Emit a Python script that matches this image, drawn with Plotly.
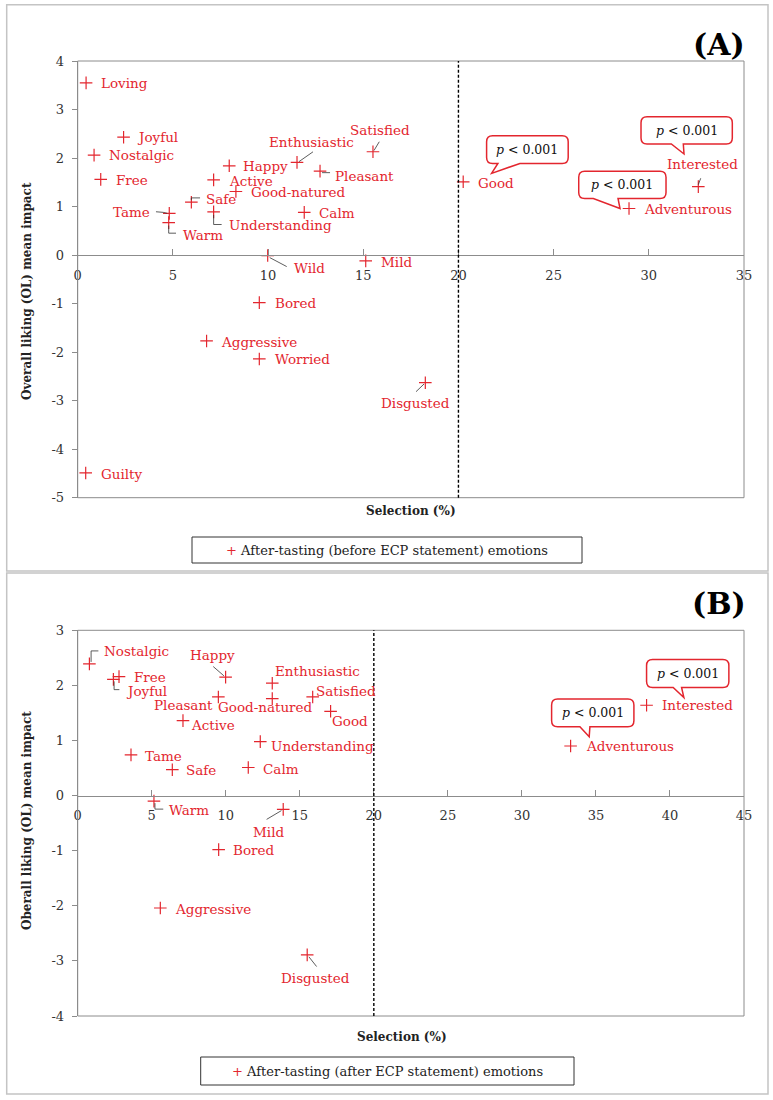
import plotly.graph_objects as go

W, H = 773, 1100
RED = "#E3262E"
FONT = "DejaVu Serif"
AXC = "#8c8c8c"

# ---------------- data ----------------
emotions_a = ["Loving", "Joyful", "Nostalgic", "Free", "Happy", "Enthusiastic", "Satisfied",
              "Pleasant", "Active", "Good-natured", "Safe", "Tame", "Warm", "Understanding",
              "Calm", "Wild", "Mild", "Bored", "Aggressive", "Worried", "Disgusted", "Guilty",
              "Good", "Adventurous", "Interested"]
selection_a = [0.44, 2.41, 0.86, 1.21, 7.96, 11.52, 15.51, 12.73, 7.14, 8.31, 5.97, 4.81, 4.78,
               7.14, 11.9, 9.98, 15.13, 9.54, 6.77, 9.54, 18.26, 0.42, 20.25, 28.96, 32.6]
impact_a = [3.55, 2.43, 2.06, 1.56, 1.84, 1.91, 2.13, 1.73, 1.55, 1.31, 1.09, 0.86, 0.67,
            0.89, 0.88, -0.01, -0.12, -0.98, -1.77, -2.14, -2.63, -4.49, 1.51, 0.96, 1.41]

emotions_b = ["Nostalgic", "Free", "Joyful", "Happy", "Enthusiastic", "Good-natured", "Pleasant",
              "Satisfied", "Good", "Active", "Understanding", "Tame", "Safe", "Calm", "Warm",
              "Mild", "Bored", "Aggressive", "Disgusted", "Interested", "Adventurous"]
selection_b = [0.79, 2.79, 2.41, 9.99, 13.14, 13.14, 9.5, 15.87, 17.08, 7.11, 12.33, 3.6, 6.39,
               11.52, 5.15, 13.88, 9.52, 5.58, 15.5, 38.42, 33.29]
impact_b = [2.39, 2.16, 2.11, 2.15, 2.04, 1.76, 1.79, 1.79, 1.53, 1.36, 0.98, 0.74, 0.47,
            0.51, -0.1, -0.25, -0.98, -2.04, -2.89, 1.64, 0.9]

x_ticks_a = [0, 5, 10, 15, 20, 25, 30, 35]
y_ticks_a = [-5, -4, -3, -2, -1, 0, 1, 2, 3, 4]
x_ticks_b = [0, 5, 10, 15, 20, 25, 30, 35, 40, 45]
y_ticks_b = [-4, -3, -2, -1, 0, 1, 2, 3]
threshold = 20

legend_a = "After-tasting (before ECP statement) emotions"
legend_b = "After-tasting (after ECP statement) emotions"
ytitle_a = "Overall liking (OL) mean impact"
ytitle_b = "Oberall liking (OL) mean impact"
xtitle = "Selection (%)"

# ---------------- styling: label placement (anchor, dx, dy in screen px, y down) -------------
lab_a = {
    "Loving": ("left", 13, 0.6), "Joyful": ("left", 11.3, 0), "Nostalgic": ("left", 12.7, 0),
    "Free": ("left", 13.3, 0.7), "Happy": ("left", 12, 0), "Active": ("left", 13, 1),
    "Good-natured": ("left", 13.3, 0.7), "Safe": ("left", 12.7, -3.3), "Tame": ("right", -17.6, -1.3),
    "Warm": ("left", 12, 12.3), "Understanding": ("left", 13, 13.6), "Calm": ("left", 13, 0.4),
    "Enthusiastic": ("center", 14.7, -20.6), "Satisfied": ("center", 6.7, -21.7),
    "Pleasant": ("left", 12.7, 4.7), "Wild": ("left", 24.3, 12), "Mild": ("left", 13, 1.3),
    "Bored": ("left", 13.4, 0), "Aggressive": ("left", 12.6, 0.6), "Worried": ("left", 13.4, 0.3),
    "Disgusted": ("center", -10.3, 20.6), "Guilty": ("left", 13, 0.6), "Good": ("left", 12.7, 1),
    "Adventurous": ("left", 13.3, 0.7), "Interested": ("center", 4.2, -22.4),
}
lab_b = {
    "Nostalgic": ("left", 13, -12.7), "Free": ("left", 12.7, 0.6), "Joyful": ("left", 11, 11.3),
    "Happy": ("center", -12.7, -22), "Enthusiastic": ("left", 1, -12),
    "Good-natured": ("center", -6.5, 8.4), "Pleasant": ("right", -3.3, 7.6),
    "Satisfied": ("left", 1.3, -6.3), "Good": ("left", -0.7, 10), "Active": ("left", 6, 4.6),
    "Understanding": ("left", 8.4, 4.7), "Tame": ("left", 11.7, 1), "Safe": ("left", 11.7, 0.6),
    "Calm": ("left", 12.7, 1.3), "Warm": ("left", 12.7, 9.3), "Mild": ("center", -15, 23),
    "Bored": ("left", 12.6, 0.7), "Aggressive": ("left", 12.7, 0.6),
    "Disgusted": ("center", 8.5, 23.3), "Interested": ("left", 13.3, 0), "Adventurous": ("left", 13.3, 0),
}
lead_a = {
    "Safe": [(0, -2), (0, -4.3), (8.7, -4.3)],
    "Tame": [(-13.3, -1.6), (-6, -1), (-2, 0)],
    "Warm": [(0, 3), (0, 10.6), (7.3, 10.6)],
    "Understanding": [(0, 3), (0, 12.6), (8, 12.6)],
    "Enthusiastic": [(16, -10.6), (2, -0.8)],
    "Satisfied": [(6.3, -10), (1, -1.2)],
    "Pleasant": [(2, 1.5), (10, 1.5)],
    "Wild": [(2, 2), (19, 11)],
    "Disgusted": [(-9.3, 9), (-1.3, 1.3)],
    "Interested": [(2.4, -8.4), (0, -2)],
}
lead_b = {
    "Nostalgic": [(1.7, -2), (1.7, -13), (9, -13)],
    "Joyful": [(0.7, 2), (0.7, 10.3), (6, 10.3)],
    "Happy": [(-12.4, -10.6), (-1.7, -1.3)],
    "Warm": [(1, 2), (1, 8), (9.3, 8)],
    "Mild": [(-16.6, 10), (-1.8, 1.2)],
    "Disgusted": [(9.4, 11.7), (1.7, 2)],
}
# bubble: box (left, right, top, bottom), tail base (b1, b2), tip (tx, ty) -- screen px rel. to point
bub_a = {
    "Good": ((23.4, 105, -46, -18.4), (34.7, 56.7), (28.4, -8.4)),
    "Interested": ((-57.3, 34, -70, -42.7), (-27, -15), (-14.3, -32.7)),
    "Adventurous": ((-50.3, 37, -37.3, -10), (-35.7, -11), (-9, 0)),
}
bub_b = {
    "Interested": ((0, 82.3, -45.7, -17.7), (26.6, 35), (37.3, -7.7)),
    "Adventurous": ((-19, 63.3, -47, -19.3), (9.3, 19.3), (18.6, -9.3)),
}

LABEL_SIZE = 13.5
TICK_SIZE = 13
TITLE_SIZE = 12

# panel geometry (px)
PX_L, PX_R = 77.7, 744
A_T, A_B = 61, 497.7
B_T, B_B = 630.3, 1016


def px(x):
    return x / W


def py(y):
    return 1 - y / H


def fmt(points):
    return " L ".join(f"{x:.2f},{-y:.2f}" for x, y in points)


def bubble_path(box, base, tip, r=6):
    l, rr, t, b = box
    b1, b2 = base
    tx, ty = tip
    s = f"M {l + r:.2f},{-t:.2f} L {rr - r:.2f},{-t:.2f} Q {rr:.2f},{-t:.2f} {rr:.2f},{-(t + r):.2f} "
    s += f"L {rr:.2f},{-(b - r):.2f} Q {rr:.2f},{-b:.2f} {rr - r:.2f},{-b:.2f} "
    s += f"L {b2:.2f},{-b:.2f} L {tx:.2f},{-ty:.2f} L {b1:.2f},{-b:.2f} "
    s += f"L {l + r:.2f},{-b:.2f} Q {l:.2f},{-b:.2f} {l:.2f},{-(b - r):.2f} "
    s += f"L {l:.2f},{-(t + r):.2f} Q {l:.2f},{-t:.2f} {l + r:.2f},{-t:.2f} Z"
    return s


def tick_text(vals):
    return [str(v) for v in vals]


fig = go.Figure()
shapes, annots = [], []

panels = [
    dict(xa="x", ya="y", xn="xaxis", yn="yaxis", emo=emotions_a, sx=selection_a, sy=impact_a,
         xt=x_ticks_a, yt=y_ticks_a, top=A_T, bot=A_B, lab=lab_a, lead=lead_a, bub=bub_a,
         legend=legend_a, ytitle=ytitle_a, tag="(A)", tag_y=45, xt_y=510.7, xt_x=411, yt_y=291,
         leg_box=(192, 582, 537, 563), frame=(6.7, 768, 4.7, 571)),
    dict(xa="x2", ya="y2", xn="xaxis2", yn="yaxis2", emo=emotions_b, sx=selection_b, sy=impact_b,
         xt=x_ticks_b, yt=y_ticks_b, top=B_T, bot=B_B, lab=lab_b, lead=lead_b, bub=bub_b,
         legend=legend_b, ytitle=ytitle_b, tag="(B)", tag_y=603, xt_x=401.7, xt_y=1036.7, yt_y=821,
         leg_box=(200.7, 574, 1057, 1085), frame=(6.7, 768, 573, 1094)),
]

layout_axes = {}
for p in panels:
    fig.add_trace(go.Scatter(
        x=p["sx"], y=p["sy"], xaxis=p["xa"], yaxis=p["ya"], mode="markers",
        marker=dict(symbol="cross-thin", size=9, color=RED, line=dict(color=RED, width=1.2)),
        showlegend=False, hoverinfo="text", text=p["emo"]))
    ydom = [py(p["bot"]), py(p["top"])]
    y0, y1 = min(p["yt"]), max(p["yt"])
    pos = ydom[0] + (0 - y0) / (y1 - y0) * (ydom[1] - ydom[0])
    layout_axes[p["xn"]] = dict(
        domain=[px(PX_L), px(PX_R)], range=[min(p["xt"]), max(p["xt"])], anchor="free",
        position=pos, tickvals=p["xt"], ticktext=tick_text(p["xt"]), showline=True,
        linecolor=AXC, linewidth=1, ticks="inside", ticklen=6, tickcolor=AXC, showgrid=False,
        zeroline=False, ticklabelstandoff=8, automargin=False,
        tickfont=dict(family=FONT, size=TICK_SIZE, color="#333"), fixedrange=True)
    layout_axes[p["yn"]] = dict(
        domain=ydom, range=[y0, y1], anchor=p["xa"], tickvals=p["yt"],
        ticktext=tick_text(p["yt"]), showline=True, linecolor=AXC, linewidth=1,
        ticks="outside", ticklen=5, tickcolor=AXC, showgrid=False, zeroline=False,
        ticklabelstandoff=5, automargin=False,
        tickfont=dict(family=FONT, size=TICK_SIZE, color="#333"), fixedrange=True)

    # plot-area box
    shapes.append(dict(type="rect", xref=p["xa"] + " domain", yref=p["ya"] + " domain",
                       x0=0, x1=1, y0=0, y1=1, line=dict(color=AXC, width=1)))
    # threshold line
    shapes.append(dict(type="line", xref=p["xa"], yref=p["ya"] + " domain", x0=threshold,
                       x1=threshold, y0=0, y1=1, line=dict(color="black", width=1.4, dash="3px,2px")))
    # outer frame
    l, r, t, b = p["frame"]
    shapes.append(dict(type="rect", xref="paper", yref="paper", x0=px(l), x1=px(r), y0=py(b),
                       y1=py(t), line=dict(color="#c4c4c4", width=1.5)))
    # legend box
    l, r, t, b = p["leg_box"]
    shapes.append(dict(type="rect", xref="paper", yref="paper", x0=px(l), x1=px(r), y0=py(b),
                       y1=py(t), line=dict(color="#333", width=1)))
    annots.append(dict(xref="paper", yref="paper", x=px((l + r) / 2), y=py((t + b) / 2),
                       text=f'<span style="color:{RED}">+</span> ' + p["legend"], showarrow=False,
                       font=dict(family=FONT, size=13, color="#222"), xanchor="center",
                       yanchor="middle"))
    # titles
    annots.append(dict(xref="paper", yref="paper", x=px(p["xt_x"]), y=py(p["xt_y"]),
                       text="<b>" + xtitle + "</b>", showarrow=False,
                       font=dict(family=FONT, size=TITLE_SIZE, color="#222"), xanchor="center",
                       yanchor="middle"))
    annots.append(dict(xref="paper", yref="paper", x=px(27), y=py(p["yt_y"]),
                       text="<b>" + p["ytitle"] + "</b>", showarrow=False, textangle=-90,
                       font=dict(family=FONT, size=TITLE_SIZE, color="#222"), xanchor="center",
                       yanchor="middle"))
    annots.append(dict(xref="paper", yref="paper", x=px(719), y=py(p["tag_y"]),
                       text="<b>" + p["tag"] + "</b>", showarrow=False,
                       font=dict(family=FONT, size=30, color="black"), xanchor="center",
                       yanchor="middle"))

    # point labels, leader lines, callouts
    for name, xv, yv in zip(p["emo"], p["sx"], p["sy"]):
        anc, dx, dy = p["lab"][name]
        annots.append(dict(xref=p["xa"], yref=p["ya"], x=xv, y=yv, text=name, showarrow=False,
                           xanchor=anc, yanchor="middle", xshift=dx, yshift=-dy,
                           font=dict(family=FONT, size=LABEL_SIZE, color=RED)))
        if name in p["lead"]:
            shapes.append(dict(type="path", xref=p["xa"], yref=p["ya"], xsizemode="pixel",
                               ysizemode="pixel", xanchor=xv, yanchor=yv,
                               path="M " + fmt(p["lead"][name]),
                               line=dict(color="#333", width=0.8)))
        if name in p["bub"]:
            box, base, tip = p["bub"][name]
            shapes.append(dict(type="path", xref=p["xa"], yref=p["ya"], xsizemode="pixel",
                               ysizemode="pixel", xanchor=xv, yanchor=yv,
                               path=bubble_path(box, base, tip),
                               line=dict(color=RED, width=1.5), fillcolor="white"))
            cx = (box[0] + box[1]) / 2
            cy = (box[2] + box[3]) / 2
            annots.append(dict(xref=p["xa"], yref=p["ya"], x=xv, y=yv,
                               text="<i>p</i> &lt; 0.001", showarrow=False,
                               xanchor="center", yanchor="middle", xshift=cx, yshift=-cy,
                               font=dict(family=FONT, size=12.5, color="#111")))

fig.update_layout(
    width=W, height=H, autosize=False, margin=dict(l=0, r=0, t=0, b=0, pad=0, autoexpand=False),
    paper_bgcolor="white", plot_bgcolor="white", showlegend=False,
    shapes=shapes, annotations=annots, **layout_axes)

fig.write_html("out.html", config={"displayModeBar": False, "responsive": False})
with open("out.html", "r", encoding="utf-8") as f:
    html = f.read()
css = ("<style>html,body{margin:0 !important;padding:0 !important;width:773px;height:1100px;"
       "overflow:hidden;}</style>")
if "</head>" in html:
    html = html.replace("</head>", css + "</head>", 1)
else:
    html = css + html
with open("out.html", "w", encoding="utf-8") as f:
    f.write(html)
